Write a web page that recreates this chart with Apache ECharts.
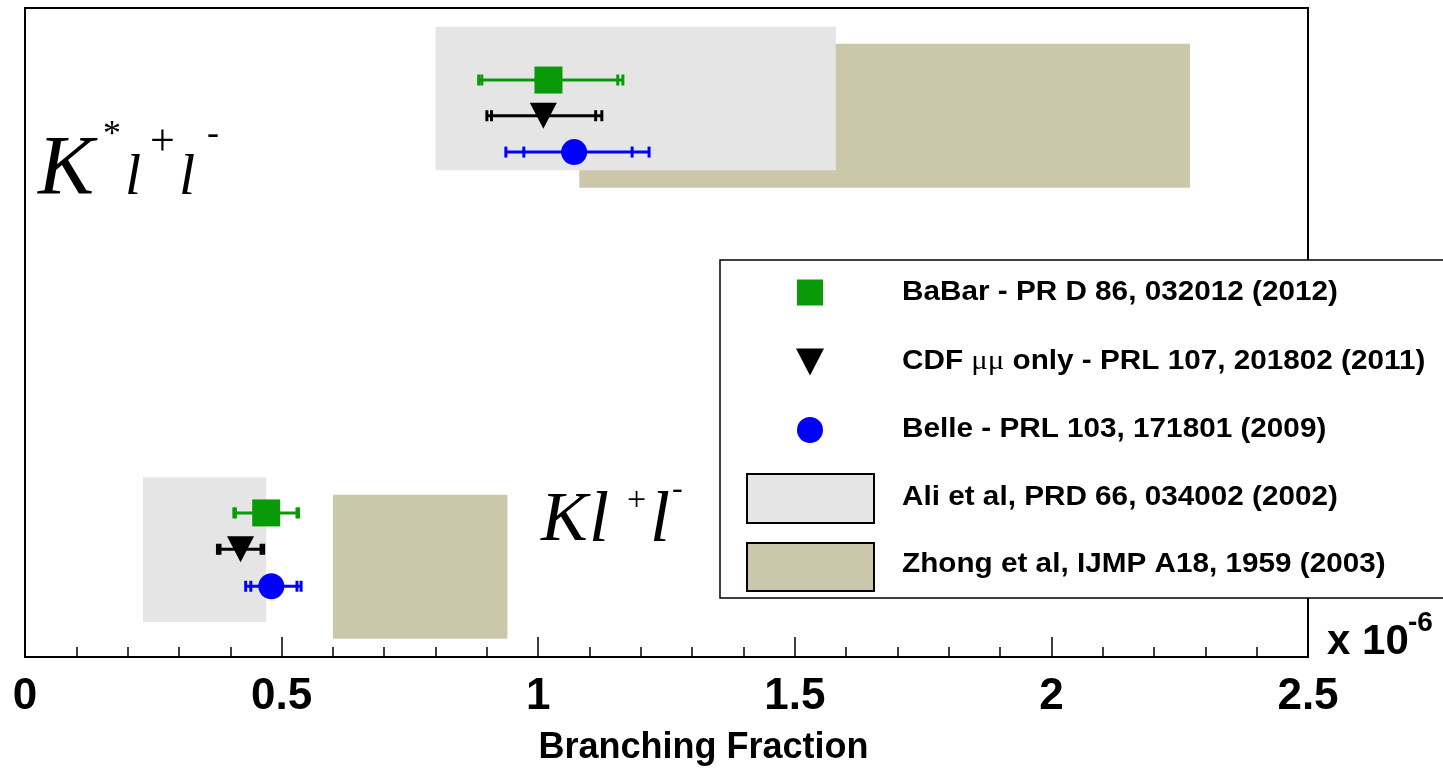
<!DOCTYPE html>
<html><head><meta charset="utf-8">
<script src="https://cdn.jsdelivr.net/npm/echarts@6.0.0/dist/echarts.min.js"></script>
<style>html,body{margin:0;padding:0;background:#fff}#c{width:1443px;height:768px}</style>
</head><body><div id="c"></div><script>
// ---------------- data (x in units of 1e-6) ----------------
const channels = ['K*l+l-', 'Kl+l-'];
const xTickLabels = ['0', '0.5', '1', '1.5', '2', '2.5'];

// BaBar - PR D 86, 032012 (2012)
const babarCentral = [1.02, 0.47];
const babarStatLo  = [0.890, 0.410];
const babarStatHi  = [1.155, 0.530];
const babarTotLo   = [0.884, 0.407];
const babarTotHi   = [1.165, 0.533];

// CDF mumu only - PRL 107, 201802 (2011)
const cdfCentral = [1.01, 0.42];
const cdfStatLo  = [0.909, 0.380];
const cdfStatHi  = [1.112, 0.460];
const cdfTotLo   = [0.900, 0.375];
const cdfTotHi   = [1.124, 0.465];

// Belle - PRL 103, 171801 (2009)
const belleCentral = [1.07, 0.48];
const belleStatLo  = [0.972, 0.440];
const belleStatHi  = [1.183, 0.530];
const belleTotLo   = [0.937, 0.430];
const belleTotHi   = [1.216, 0.538];

// theory predictions (ranges)
const aliLo   = [0.80, 0.23];
const aliHi   = [1.58, 0.47];
const zhongLo = [1.08, 0.60];
const zhongHi = [2.27, 0.94];

const legendLabels = [
  'BaBar - PR D 86, 032012 (2012)',
  'CDF μμ only - PRL 107, 201802 (2011)',
  'Belle - PRL 103, 171801 (2009)',
  'Ali et al, PRD 66, 034002 (2002)',
  'Zhong et al, IJMP A18, 1959 (2003)'
];

// ---------------- layout (vertical slots on a hidden 0..100 axis) ----------------
const rowBabar = [88.9, 22.2];
const rowCdf   = [83.4, 16.6];
const rowBelle = [77.8, 10.9];
const aliBand   = [[75.0, 97.1], [5.4, 27.7]];
const zhongBand = [[72.3, 94.5], [2.8, 25.0]];

const GREEN = '#089a08', BLUE = '#0000ff', BLACK = '#000000';
const GRAY = '#e5e5e5', TAN = '#cbc7ab';

function boxData(lo, hi, band) {
  return channels.map((c, i) => [lo[i], hi[i], band[i][0], band[i][1]]);
}
function errData(cen, tl, sl, sh, th, row) {
  return channels.map((c, i) => [cen[i], tl[i], sl[i], sh[i], th[i], row[i]]);
}
function ptData(cen, row) { return channels.map((c, i) => [cen[i], row[i]]); }

function boxRender(color) {
  return function (params, api) {
    const p0 = api.coord([api.value(0), api.value(3)]);
    const p1 = api.coord([api.value(1), api.value(2)]);
    return { type: 'rect', shape: { x: p0[0], y: p0[1], width: p1[0] - p0[0], height: p1[1] - p0[1] },
      style: { fill: color } };
  };
}
function errRender(color) {
  return function (params, api) {
    const y = api.value(5);
    const pts = [1, 2, 3, 4].map(k => api.coord([api.value(k), y]));
    const capH = 5.5;
    const ch = [{ type: 'line', shape: { x1: pts[0][0], y1: pts[0][1], x2: pts[3][0], y2: pts[3][1] },
      style: { stroke: color, lineWidth: 3 } }];
    pts.forEach(p => ch.push({ type: 'line', shape: { x1: p[0], y1: p[1] - capH, x2: p[0], y2: p[1] + capH },
      style: { stroke: color, lineWidth: 3 } }));
    return { type: 'group', children: ch };
  };
}

const SANS = 'Liberation Sans, Arial, Helvetica, sans-serif';
const SERIF = 'Liberation Serif, Times New Roman, serif';

function txt(x, y, text, size, opts) {
  opts = opts || {};
  return { type: 'text', x: x, y: y, z: 100, scaleX: opts.scaleX || 1,
    style: { text: text, fontSize: size, fontFamily: opts.family || SERIF, fontStyle: opts.style || 'normal',
      fontWeight: opts.weight || 'normal', fill: '#000', verticalAlign: 'middle', align: 'left', rich: opts.rich } };
}

const legendRowsY = [292.5, 361.5, 430, 498, 566];
const graphics = [
  // channel labels
  txt(38, 171.5, 'K', 84, { style: 'italic' }),
  txt(103, 136, '*', 36),
  txt(125, 179, 'l', 58, { style: 'italic' }),
  txt(150, 143, '+', 44),
  txt(179, 179, 'l', 58, { style: 'italic' }),
  txt(207, 134.5, '-', 36),

  txt(541, 522, 'K', 70, { style: 'italic' }),
  txt(589, 522, 'l', 72, { style: 'italic' }),
  txt(627, 501, '+', 34),
  txt(650, 522, 'l', 72, { style: 'italic' }),
  txt(672, 489.5, '-', 32),

  // x 10^-6
  txt(1327, 642.5, 'x 10', 42, { family: SANS, weight: 'bold' }),
  txt(1408, 623.5, '-6', 28, { family: SANS, weight: 'bold' }),

  // legend box
  { type: 'rect', z: 90, shape: { x: 720, y: 260, width: 740, height: 338 },
    style: { fill: '#fff', stroke: '#000', lineWidth: 1.5 } },
  { type: 'rect', z: 95, shape: { x: 797, y: legendRowsY[0] - 13, width: 26, height: 26 }, style: { fill: GREEN } },
  { type: 'polygon', z: 95, shape: { points: [[796, legendRowsY[1] - 13], [824, legendRowsY[1] - 13], [810, legendRowsY[1] + 14]] },
    style: { fill: BLACK } },
  { type: 'circle', z: 95, shape: { cx: 810, cy: legendRowsY[2], r: 13 }, style: { fill: BLUE } },
  { type: 'rect', z: 95, shape: { x: 747, y: 474, width: 127, height: 49 }, style: { fill: GRAY, stroke: '#000', lineWidth: 2 } },
  { type: 'rect', z: 95, shape: { x: 747, y: 543, width: 127, height: 48 }, style: { fill: TAN, stroke: '#000', lineWidth: 2 } },
  txt(902, legendRowsY[0], legendLabels[0], 27, { family: SANS, weight: 'bold', scaleX: 1.1 }),
  { type: 'text', x: 902, y: legendRowsY[1], z: 100, scaleX: 1.1,
    style: { text: '{b|CDF }{m|μμ}{b| only - PRL 107, 201802 (2011)}', verticalAlign: 'middle', align: 'left', fill: '#000',
      rich: { b: { fontSize: 27, fontFamily: SANS, fontWeight: 'bold', fill: '#000' },
              m: { fontSize: 28, fontFamily: SERIF, fontWeight: 'normal', fill: '#000' } } } },
  txt(902, legendRowsY[2], legendLabels[2], 27, { family: SANS, weight: 'bold', scaleX: 1.1 }),
  txt(902, 497.5, legendLabels[3], 27, { family: SANS, weight: 'bold', scaleX: 1.1 }),
  txt(902, 564.5, legendLabels[4], 27, { family: SANS, weight: 'bold', scaleX: 1.1 })
];

const option = {
  animation: false,
  backgroundColor: '#fff',
  grid: { left: 25, top: 8, width: 1283, height: 649, show: true, borderColor: '#000', borderWidth: 2, backgroundColor: '#fff',
    containLabel: false, outerBoundsMode: 'none' },
  xAxis: {
    type: 'value', min: 0, max: 2.5, interval: 0.5, position: 'bottom',
    axisLine: { show: true, onZero: false, lineStyle: { color: '#000', width: 2 } },
    axisTick: { show: true, inside: true, length: 20, lineStyle: { color: '#000', width: 1.5 } },
    minorTick: { show: true, splitNumber: 5, length: 10, lineStyle: { color: '#000', width: 1.5 } },
    splitLine: { show: false },
    axisLabel: { margin: 18, fontSize: 44, fontWeight: 'bold', color: '#000', fontFamily: SANS,
      formatter: v => xTickLabels[Math.round(v / 0.5)] },
    name: 'Branching Fraction', nameLocation: 'middle', nameGap: 73,
    nameTextStyle: { fontSize: 36, fontWeight: 'bold', color: '#000', fontFamily: SANS, padding: [0, 0, 0, 74] }
  },
  yAxis: { type: 'value', min: 0, max: 100, show: false },
  series: [
    { name: legendLabels[4], type: 'custom', renderItem: boxRender(TAN), data: boxData(zhongLo, zhongHi, zhongBand),
      encode: { x: [0, 1], y: [2, 3] }, z: 1, silent: true },
    { name: legendLabels[3], type: 'custom', renderItem: boxRender(GRAY), data: boxData(aliLo, aliHi, aliBand),
      encode: { x: [0, 1], y: [2, 3] }, z: 2, silent: true },
    { name: 'BaBar err', type: 'custom', renderItem: errRender(GREEN),
      data: errData(babarCentral, babarTotLo, babarStatLo, babarStatHi, babarTotHi, rowBabar), encode: { x: [1, 4], y: 5 }, z: 3 },
    { name: 'CDF err', type: 'custom', renderItem: errRender(BLACK),
      data: errData(cdfCentral, cdfTotLo, cdfStatLo, cdfStatHi, cdfTotHi, rowCdf), encode: { x: [1, 4], y: 5 }, z: 3 },
    { name: 'Belle err', type: 'custom', renderItem: errRender(BLUE),
      data: errData(belleCentral, belleTotLo, belleStatLo, belleStatHi, belleTotHi, rowBelle), encode: { x: [1, 4], y: 5 }, z: 3 },
    { name: legendLabels[0], type: 'scatter', symbol: 'rect', symbolSize: [28, 27], itemStyle: { color: GREEN, opacity: 1 },
      data: ptData(babarCentral, rowBabar), z: 4 },
    { name: legendLabels[1], type: 'scatter', symbol: 'triangle', symbolRotate: 180, symbolSize: [27, 26], itemStyle: { color: BLACK, opacity: 1 },
      data: ptData(cdfCentral, rowCdf), z: 4 },
    { name: legendLabels[2], type: 'scatter', symbol: 'circle', symbolSize: 26, itemStyle: { color: BLUE, opacity: 1 },
      data: ptData(belleCentral, rowBelle), z: 4 }
  ],
  graphic: graphics
};

const chart = echarts.init(document.getElementById('c'), null, { renderer: 'canvas' });
chart.setOption(option);
</script></body></html>
